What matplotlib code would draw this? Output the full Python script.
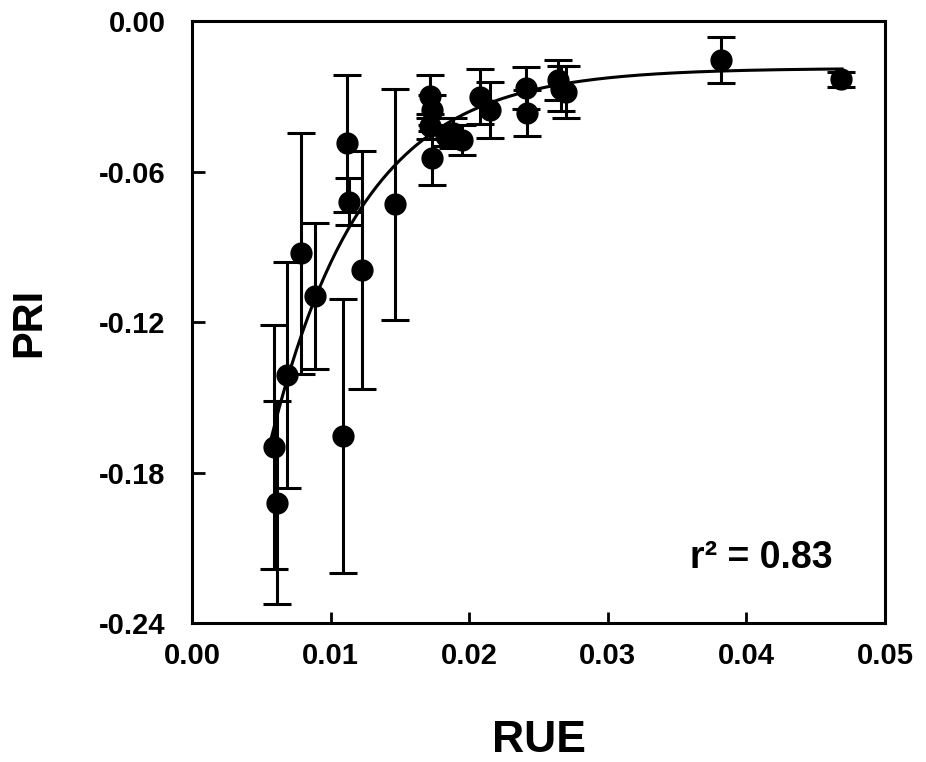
import numpy as np
import matplotlib.pyplot as plt

plt.rcParams['font.family'] = ['Liberation Sans', 'DejaVu Sans']
plt.rcParams['font.weight'] = 'bold'

# RUE vs PRI, mean +/- error
rue = [0.00594, 0.00611, 0.00683, 0.00784, 0.00887, 0.01092, 0.01116, 0.0113,
       0.0123, 0.01465, 0.0173, 0.0172, 0.0173, 0.0172, 0.0188, 0.0195,
       0.0183, 0.0208, 0.0215, 0.0241, 0.0242, 0.0264, 0.0266, 0.0270,
       0.0382, 0.0468]
pri = [-0.1697, -0.1920, -0.1411, -0.0926, -0.1096, -0.1655, -0.0488, -0.0720,
       -0.0993, -0.0730, -0.0547, -0.0300, -0.0355, -0.0420, -0.0445, -0.0475,
       -0.0460, -0.0302, -0.0355, -0.0267, -0.0367, -0.0235, -0.0270, -0.0283,
       -0.0155, -0.0233]
pri_err = [0.0487, 0.0405, 0.0450, 0.0480, 0.0290, 0.0545, 0.0273, 0.0095,
           0.0475, 0.0460, 0.0107, 0.0085, 0.0060, 0.0050, 0.0060, 0.0060,
           0.0040, 0.0110, 0.0112, 0.0084, 0.0092, 0.0080, 0.0090, 0.0104,
           0.0093, 0.0030]

# exponential rise to plateau: PRI = c - a * exp(-b * RUE)
fit_c = -0.0188
fit_a = 0.348
fit_b = 150.0
fit_range = (0.00575, 0.0469)
r2_text = "r² = 0.83"

xticks = [0.00, 0.01, 0.02, 0.03, 0.04, 0.05]
yticks = [0.00, -0.06, -0.12, -0.18, -0.24]

fig = plt.figure(figsize=(9.26, 7.62), dpi=100)
ax = fig.add_axes([0.2073, 0.1824, 0.7484, 0.79])

xf = np.linspace(fit_range[0], fit_range[1], 300)
ax.plot(xf, fit_c - fit_a * np.exp(-fit_b * xf), color='black', linewidth=2.2, zorder=2)

ax.errorbar(rue, pri, yerr=pri_err, fmt='o', color='black', markersize=15,
            elinewidth=2.2, capsize=10, capthick=2.2, zorder=3)

ax.set_xlim(0, 0.05)
ax.set_ylim(-0.24, 0)
ax.set_xticks(xticks)
ax.set_yticks(yticks)
ax.set_xticklabels([f"{v:.2f}" for v in xticks])
ax.set_yticklabels([f"{v:.2f}" if v == 0 else f"-{abs(v):.2f}" for v in yticks])

for side in ax.spines.values():
    side.set_linewidth(2.2)
ax.tick_params(axis='x', direction='in', length=8, width=2, labelsize=21, pad=14)
ax.tick_params(axis='y', direction='in', length=9, width=2, labelsize=21, pad=19)
for lbl in ax.get_xticklabels() + ax.get_yticklabels():
    lbl.set_fontweight('bold')

ax.set_xlabel("RUE", fontsize=32, fontweight='bold', labelpad=36)
ax.set_ylabel("PRI", fontsize=30, fontweight='bold', labelpad=36)

ax.text(0.04625, -0.214, r2_text, fontsize=27, fontweight='bold', ha='right', va='center')

fig.savefig("out.png", dpi=100)
